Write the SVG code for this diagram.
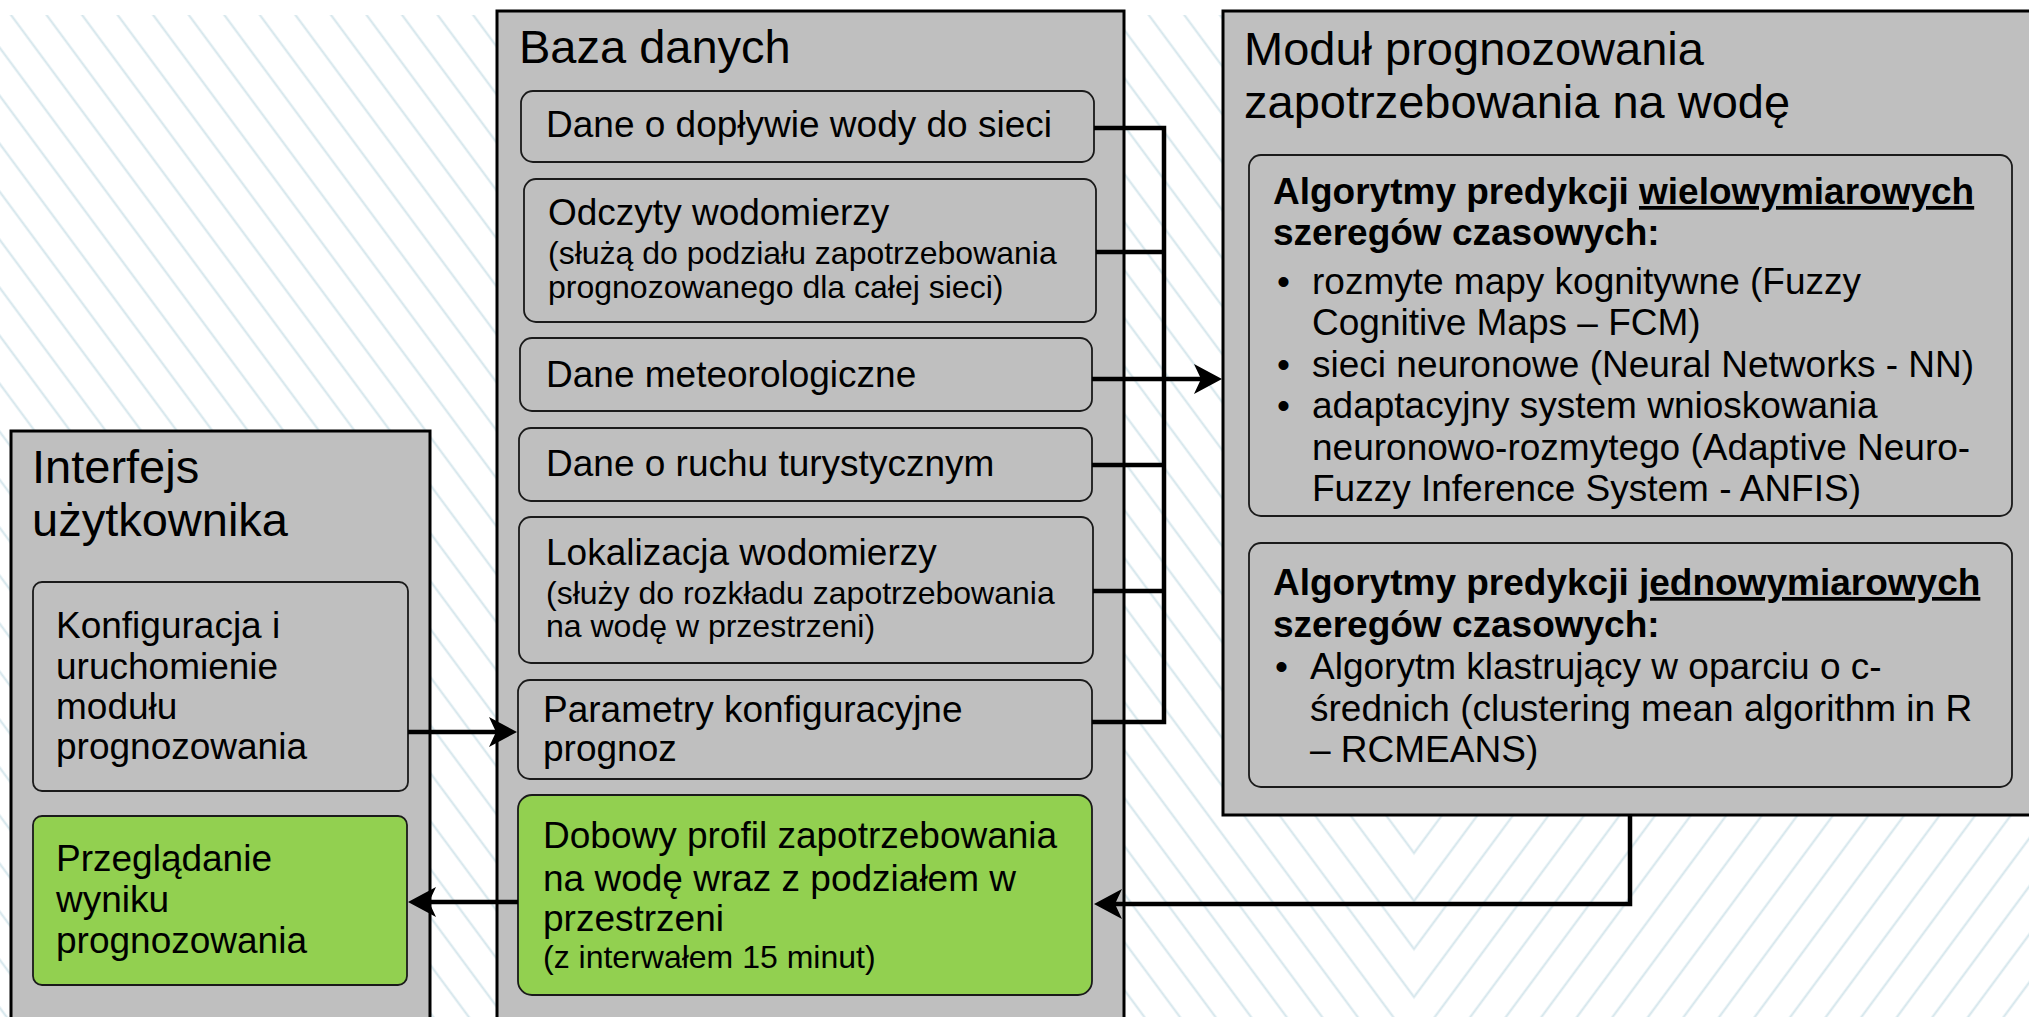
<svg xmlns="http://www.w3.org/2000/svg" width="2029" height="1017" viewBox="0 0 2029 1017">
<style>
text{font-family:"Liberation Sans",Arial,sans-serif;fill:#000}
.t{font-size:47px}
.m{font-size:37px}
.s{font-size:32px}
.b{font-weight:bold}
.outer{fill:#bfbfbf;stroke:#000;stroke-width:3}
.inner{fill:#bfbfbf;stroke:#1a1a1a;stroke-width:1.8}
.green{fill:#92d050;stroke:#1a1a1a;stroke-width:1.8}
.c{fill:none;stroke:#000;stroke-width:4.5;stroke-linejoin:miter;stroke-linecap:butt}
</style>
<defs>
<pattern id="pl" patternUnits="userSpaceOnUse" x="0" y="982.7" width="200" height="28.57" patternTransform="rotate(53.47 1414 997)">
<rect x="0" y="13.3" width="200" height="2" fill="#d3e5eb"/>
</pattern>
<pattern id="pr" patternUnits="userSpaceOnUse" x="0" y="982.7" width="200" height="28.57" patternTransform="rotate(-53.47 1414 997)">
<rect x="0" y="13.3" width="200" height="2" fill="#d3e5eb"/>
</pattern>
<marker id="ah" markerUnits="userSpaceOnUse" markerWidth="30" markerHeight="32" refX="18" refY="0" orient="auto" style="overflow:visible">
<path d="M0,-15 L28,0 L0,15 L7,0 Z" fill="#000"/>
</marker>
</defs>

<g id="background">
<rect x="0" y="0" width="2029" height="1017" fill="#ffffff"/>
<rect x="0" y="15" width="1414" height="1002" fill="url(#pl)"/>
<rect x="1414" y="15" width="615" height="1002" fill="url(#pr)"/>
</g>

<g id="interfejs">
<rect class="outer" x="11" y="431" width="419" height="600"/>
<text class="t" x="32" y="483">Interfejs</text>
<text class="t" x="32" y="536">użytkownika</text>
</g>
<g id="konfiguracja">
<rect class="inner" x="33" y="582" width="375" height="209" rx="9"/>
<text class="m"><tspan x="56" y="638">Konfiguracja i</tspan><tspan x="56" y="679">uruchomienie</tspan><tspan x="56" y="719">modułu</tspan><tspan x="56" y="759">prognozowania</tspan></text>
</g>
<g id="przegladanie">
<rect class="green" x="33" y="816" width="374" height="169" rx="9"/>
<text class="m"><tspan x="56" y="871">Przeglądanie</tspan><tspan x="56" y="912">wyniku</tspan><tspan x="56" y="953">prognozowania</tspan></text>
</g>

<g id="baza">
<rect class="outer" x="497" y="11" width="627" height="1020"/>
<text class="t" x="519" y="63">Baza danych</text>
</g>
<g id="doplyw">
<rect class="inner" x="521" y="91" width="573" height="71" rx="12"/>
<text class="m" x="546" y="137">Dane o dopływie wody do sieci</text>
</g>
<g id="odczyty">
<rect class="inner" x="524" y="179" width="572" height="143" rx="12"/>
<text class="m" x="548" y="225">Odczyty wodomierzy</text>
<text class="s"><tspan x="548" y="264">(służą do podziału zapotrzebowania</tspan><tspan x="548" y="298">prognozowanego dla całej sieci)</tspan></text>
</g>
<g id="meteo">
<rect class="inner" x="520" y="338" width="572" height="73" rx="12"/>
<text class="m" x="546" y="387">Dane meteorologiczne</text>
</g>
<g id="ruch">
<rect class="inner" x="519" y="428" width="573" height="73" rx="12"/>
<text class="m" x="546" y="476">Dane o ruchu turystycznym</text>
</g>
<g id="lokalizacja">
<rect class="inner" x="519" y="517" width="574" height="146" rx="12"/>
<text class="m" x="546" y="565">Lokalizacja wodomierzy</text>
<text class="s"><tspan x="546" y="604">(służy do rozkładu zapotrzebowania</tspan><tspan x="546" y="637">na wodę w przestrzeni)</tspan></text>
</g>
<g id="parametry">
<rect class="inner" x="518" y="680" width="574" height="99" rx="12"/>
<text class="m"><tspan x="543" y="722">Parametry konfiguracyjne</tspan><tspan x="543" y="761">prognoz</tspan></text>
</g>
<g id="dobowy">
<rect class="green" x="518" y="795" width="574" height="200" rx="14"/>
<text class="m"><tspan x="543" y="848">Dobowy profil zapotrzebowania</tspan><tspan x="543" y="891">na wodę wraz z podziałem w</tspan><tspan x="543" y="931">przestrzeni</tspan></text>
<text class="s" x="543" y="968">(z interwałem 15 minut)</text>
</g>

<g id="modul">
<rect class="outer" x="1223" y="11" width="820" height="804"/>
<text class="t"><tspan x="1244" y="65">Moduł prognozowania</tspan><tspan x="1244" y="118">zapotrzebowania na wodę</tspan></text>
</g>
<g id="wielowymiarowe">
<rect class="inner" x="1249" y="155" width="763" height="361" rx="12"/>
<text class="m b" x="1273" y="204">Algorytmy predykcji <tspan text-decoration="underline">wielowymiarowych</tspan></text>
<text class="m b" x="1273" y="245">szeregów czasowych:</text>
<text class="m"><tspan x="1277" y="294">•</tspan><tspan x="1312" y="294">rozmyte mapy kognitywne (Fuzzy</tspan><tspan x="1312" y="335">Cognitive Maps – FCM)</tspan><tspan x="1277" y="377">•</tspan><tspan x="1312" y="377">sieci neuronowe (Neural Networks - NN)</tspan><tspan x="1277" y="418">•</tspan><tspan x="1312" y="418">adaptacyjny system wnioskowania</tspan><tspan x="1312" y="460">neuronowo-rozmytego (Adaptive Neuro-</tspan><tspan x="1312" y="501">Fuzzy Inference System - ANFIS)</tspan></text>
</g>
<g id="jednowymiarowe">
<rect class="inner" x="1249" y="543" width="763" height="244" rx="12"/>
<text class="m b" x="1273" y="595">Algorytmy predykcji <tspan text-decoration="underline">jednowymiarowych</tspan></text>
<text class="m b" x="1273" y="637">szeregów czasowych:</text>
<text class="m"><tspan x="1275" y="679">•</tspan><tspan x="1310" y="679">Algorytm klastrujący w oparciu o c-</tspan><tspan x="1310" y="721">średnich (clustering mean algorithm in R</tspan><tspan x="1310" y="762">– RCMEANS)</tspan></text>
</g>

<g id="connectors">
<path class="c" d="M1094,128 H1164 V722 H1092"/>
<path class="c" d="M1096,252 H1164"/>
<path class="c" d="M1092,465 H1164"/>
<path class="c" d="M1093,591 H1164"/>
<path class="c" d="M1092,379 H1212" marker-end="url(#ah)"/>
<path class="c" d="M1630,815 V904 H1104" marker-end="url(#ah)"/>
<path class="c" d="M408,732 H507" marker-end="url(#ah)"/>
<path class="c" d="M518,902 H418" marker-end="url(#ah)"/>
</g>
</svg>
